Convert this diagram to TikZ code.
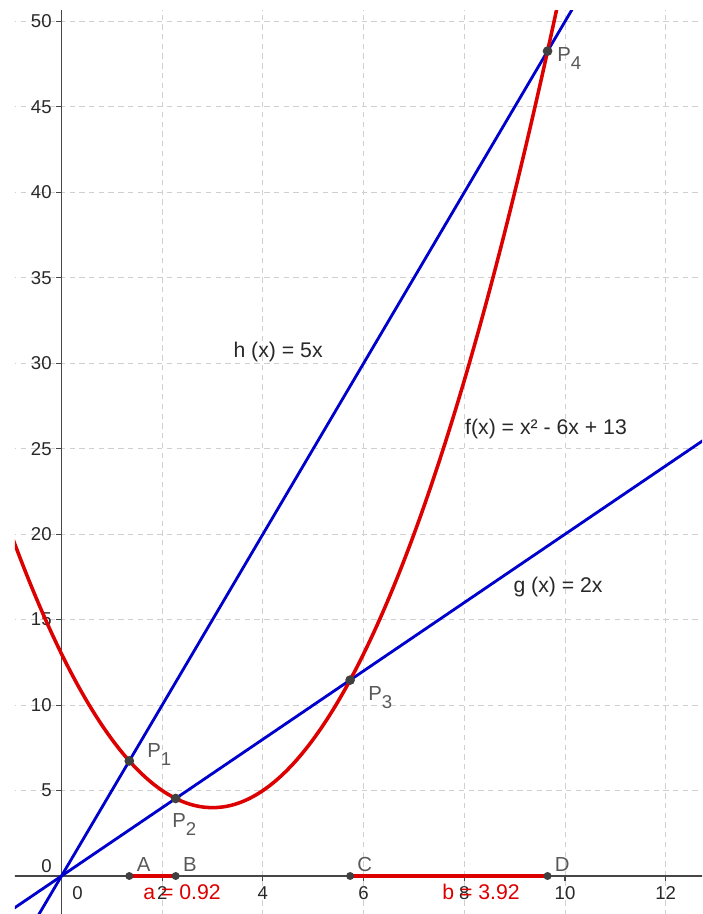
\documentclass[tikz,border=0pt]{standalone}
\usepackage{fontspec}
\setmainfont{Liberation Sans}
\definecolor{ggred}{RGB}{220,0,0}
\definecolor{ggblue}{RGB}{0,0,205}
\definecolor{gggrid}{RGB}{208,208,208}
\definecolor{ggaxis}{RGB}{70,70,70}
\definecolor{ggtext}{RGB}{40,40,40}
\newcommand{\psub}[1]{P\raisebox{-4pt}{\fontsize{10.5}{11}\selectfont #1}}

\begin{document}
\begin{tikzpicture}[x=1cm, y=0.33942cm, font=\fontsize{12}{14}\selectfont,
  gridline/.style={gggrid, line width=0.5pt, dash pattern=on 3pt off 2.5pt},
  axisline/.style={ggaxis, line width=1pt},
  fcurve/.style={ggred, line width=2pt},
  lincurve/.style={ggblue, line width=1.6pt},
  segline/.style={ggred, line width=2.2pt},
  ptdot/.style={circle, fill=black!75, inner sep=0pt, minimum size=5.5pt},
  axdot/.style={circle, fill=black!75, inner sep=0pt, minimum size=4.5pt},
  ticklab/.style={ggtext, font=\fontsize{10.5}{12}\selectfont, inner sep=0pt},
  ptlab/.style={black!65, font=\fontsize{11.5}{13}\selectfont, inner sep=0pt, anchor=base west},
  fnlab/.style={ggtext, inner sep=0pt, anchor=base west}]
  \useasboundingbox (-1.2214,-2.2235) rectangle (12.721,51.258);
  \begin{scope}
    \clip (-0.9235,-2.2235) rectangle (12.721,50.67);
    \foreach \i in {2,4,...,12} \draw[gridline] (\i,-2.3) -- (\i,50.7);
    \foreach \j in {5,10,...,50} \draw[gridline] (-1,\j) -- (12.8,\j);
    \draw[axisline] (-1,0) -- (12.8,0);
    \draw[axisline] (0,-2.3) -- (0,50.7);
    \foreach \i in {2,4,...,12} \draw[axisline, line width=0.6pt] (\i,0) -- ++(0,-3pt);
    \foreach \j in {5,10,...,50} \draw[axisline, line width=0.6pt] (0,\j) -- ++(-3pt,0);
    % tick labels
    \foreach \i in {2,4,...,12} \node[ticklab, anchor=base] (xt\i) at (\i,-1.40) {\i};
    \node[ticklab, anchor=base west] (xt0) at (0.209,-1.40) {0};
    \foreach \j in {5,10,...,50} \node[ticklab, anchor=east] (yt\j) at (-0.189,\j) {\j};
    \node[ticklab, anchor=base east] (yt0) at (-0.189,0.23) {0};
    % g, h, f
    \draw[lincurve, domain=-1.2:12.8] plot (\x,{2*\x});
    \draw[lincurve, domain=-0.5:10.2] plot (\x,{5*\x});
    \draw[fcurve, domain=-1:9.9, samples=120, smooth] plot (\x,{\x*\x-6*\x+13});
  \end{scope}
  \coordinate (A) at (1.34669,0);
  \coordinate (B) at (2.26795,0);
  \coordinate (C) at (5.73205,0);
  \coordinate (D) at (9.65331,0);
  \draw[segline] (A) -- (B);
  \draw[segline] (C) -- (D);
  \foreach \n in {A,B,C,D} \node[axdot] (\n dot) at (\n) {};
  \node[ptdot] (P1) at (1.34669,6.73345) {};
  \node[ptdot] (P2) at (2.26795,4.53590) {};
  \node[ptdot] (P3) at (5.73205,11.4641) {};
  \node[ptdot] (P4) at (9.65331,48.26655) {};
  \node[ptlab] (P1lab) at (1.698,6.905) {\psub{1}};
  \node[ptlab] (P2lab) at (2.194,2.81) {\psub{2}};
  \node[ptlab] (P3lab) at (6.087,10.24) {\psub{3}};
  \node[ptlab] (P4lab) at (9.84,47.63) {\psub{4}};
  \node[ptlab] (Alab) at (1.49,0.29) {A};
  \node[ptlab] (Blab) at (2.41,0.29) {B};
  \node[ptlab] (Clab) at (5.87,0.29) {C};
  \node[ptlab] (Dlab) at (9.79,0.29) {D};
  \node[fnlab, ggred] (alab) at (1.619,-1.40) {a = 0.92};
  \node[fnlab, ggred] (blab) at (7.557,-1.40) {b = 3.92};
  \node[fnlab] (hlab) at (3.41,30.31) {h (x) = 5x};
  \node[fnlab] (flab) at (8.01,25.86) {f(x) = x² - 6x + 13};
  \node[fnlab] (glab) at (8.97,16.56) {g (x) = 2x};
\end{tikzpicture}
\end{document}
